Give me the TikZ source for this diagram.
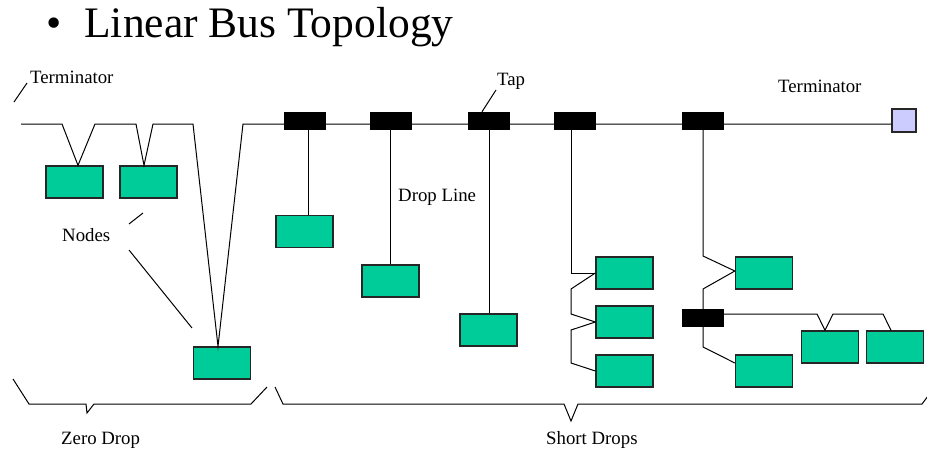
\documentclass[tikz,border=0pt]{standalone}
\usepackage{fontspec}
\setmainfont{Liberation Serif}
\definecolor{nodegreen}{HTML}{00CC99}
\definecolor{termblue}{HTML}{CCCCFF}
\begin{document}
\begin{tikzpicture}[x=1pt,y=-1pt,
  wire/.style={line width=1pt, black},
  station/.style={rectangle, draw=black!85, line width=1.3pt, fill=nodegreen, minimum width=57, minimum height=32, inner sep=0},
  tapbox/.style={rectangle, fill=black, draw=black, minimum width=41, minimum height=17, inner sep=0},
  termbox/.style={rectangle, fill=termblue, draw=black!85, line width=1.2pt, minimum width=24, minimum height=23, inner sep=0},
  lbl/.style={anchor=base west, inner sep=0, font=\fontsize{18.8}{22}\selectfont},
  brace/.style={line width=1pt, black}]
\useasboundingbox (0,0) rectangle (927,450);

% title
\node[anchor=base west, inner sep=0, font=\fontsize{43.5}{48}\selectfont] (title) at (46,37.5) {•\hspace{23pt}Linear Bus Topology};

% taps
\node[tapbox] (t1) at (304.5,120.5) {};
\node[tapbox] (t2) at (390.5,120.5) {};
\node[tapbox] (t3) at (489,120.5) {};
\node[tapbox] (t4) at (575,120.5) {};
\node[tapbox] (t5) at (702.5,120.5) {};
\node[tapbox] (t6) at (702.5,318) {};
\node[termbox] (term) at (904,120.5) {};

% stations
\node[station] (n1) at (74.5,182) {};
\node[station] (n2) at (148.5,182) {};
\node[station] (n0) at (222,363) {};
\node[station] (b1) at (304.5,231.5) {};
\node[station] (b2) at (390.5,281) {};
\node[station] (b3) at (488.5,330) {};
\node[station] (sa) at (624.5,273) {};
\node[station] (sb) at (624.5,322) {};
\node[station] (sc) at (624.5,371) {};
\node[station] (sd) at (764,273) {};
\node[station] (se) at (764,371) {};
\node[station] (sf) at (830,347) {};
\node[station] (sg) at (895,347) {};

% bus line with zero drops
\coordinate (busstart) at (21,124);
\draw[wire] (busstart) -- (62,124) -- (n1.north -| 78,0) -- (95,124) -- (136,124)
  -- (n2.north -| 144,0) -- (153,124) -- (193,124) -- (n0.north -| 218,0)
  -- (243,124) -- (term.west |- 0,124);
% redraw taps on top
\foreach \t in {t1,t2,t3,t4,t5}{\fill (\t.south west) rectangle (\t.north east);}

% drop lines
\draw[wire] (t1.south -| 308,0) -- (b1.north -| 308,0);
\draw[wire] (t2.south) -- (b2.north -| t2.south);
\draw[wire] (t3.south) -- (b3.north -| t3.south);
\draw[wire] (t4.south -| 571,0) -- (571,273) -- (sa.west);
\draw[wire] (sa.west) -- (571,289) -- (571,314) -- (sb.west);
\draw[wire] (sb.west) -- (571,330) -- (571,363) -- (sc.west);
\draw[wire] (t5.south -| 703,0) -- (703,256) -- (sd.west |- 0,271);
\draw[wire] (sd.west |- 0,271) -- (703,289) -- (t6.north -| 703,0);
\draw[wire] (t6.south -| 703,0) -- (703,347) -- (se.west |- 0,363);
\draw[wire] (t6.east |- 0,314) -- (817,314) -- (sf.north -| 825,0) -- (833,314) -- (883,314) -- (sg.north -| 891,0);

% labels
\node[lbl] (termL) at (30,83) {Terminator};
\coordinate (termLa) at (14,102);
\draw[wire] (termLa) -- (27,83);
\node[lbl] (termR) at (778,92) {Terminator};
\node[lbl] (tap) at (497,85) {Tap};
\draw[wire] (t3.north -| 482,0) -- (496,90);
\node[lbl] (drop) at (398,201) {Drop Line};
\node[lbl] (nodes) at (62,241) {Nodes};
\draw[wire] (129,224) -- (143,213);
\draw[wire] (129,250) -- (192,328);
\node[lbl] (zero) at (61,444) {Zero Drop};
\node[lbl] (short) at (546,444) {Short Drops};

% braces
\draw[brace] (13,379) -- (29,404) -- (86,404) -- (87,413) -- (94,404) -- (251,404) -- (267,387);
\draw[brace] (275,387) -- (283,404) -- (564,404) -- (571,421) -- (578,404) -- (922,404) -- (928,396);
\end{tikzpicture}
\end{document}
